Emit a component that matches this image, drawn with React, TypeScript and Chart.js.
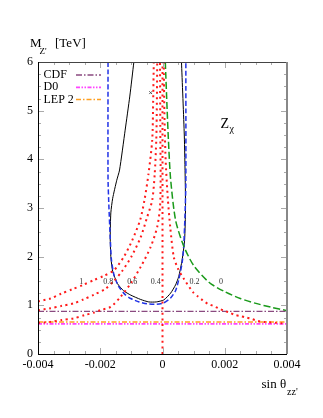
import React, { useEffect, useRef } from 'react';
import { Chart, registerables } from 'chart.js';
Chart.register(...registerables);

// ---- axis ticks ----
const xTickValues = [-0.004, -0.002, 0, 0.002, 0.004];
const xTickLabels = ['-0.004', '-0.002', '0', '0.002', '0.004'];
const yTickValues = [0, 1, 2, 3, 4, 5, 6];
const yTickLabels = ['0', '1', '2', '3', '4', '5', '6'];

// ---- red dotted contours (labelled 1, 0.8, 0.6, 0.4, 0.2) ----
const c10X = [-0.004, -0.0036, -0.00325, -0.0029, -0.00255, -0.0022, -0.0019, -0.00156, -0.00124, -0.00097, -0.00072, -0.00058, -0.00045, -0.00033, -0.0003, -0.00028];
const c10M = [1.08, 1.14, 1.24, 1.33, 1.42, 1.52, 1.6, 1.72, 2.0, 2.34, 2.75, 3.16, 3.7, 4.4, 5.2, 6.0];
const c08X = [-0.004, -0.0036, -0.00323, -0.00286, -0.00254, -0.0022, -0.00185, -0.00156, -0.0013, -0.001, -0.0007, -0.0005, -0.00033, -0.00025, -0.0002, -0.00018, -0.00017];
const c08M = [0.9, 0.94, 0.99, 1.04, 1.12, 1.22, 1.33, 1.5, 1.7, 2.0, 2.4, 2.8, 3.16, 3.7, 4.4, 5.2, 6.0];
const c06X = [-0.004, -0.0036, -0.00323, -0.00286, -0.0025, -0.0022, -0.002, -0.00166, -0.00134, -0.00102, -0.0007, -0.00038, -0.00017, -0.00008, -0.00006, -0.00007, -0.00008];
const c06M = [0.64, 0.66, 0.7, 0.73, 0.8, 0.85, 0.9, 0.97, 1.18, 1.45, 1.79, 2.2, 2.61, 3.02, 3.6, 4.5, 6.0];
const c04X = [0.0, 0.0];
const c04M = [0.0, 6.0];
const c02X = [0.00004, 0.00006, 0.0001, 0.00017, 0.00025, 0.00036, 0.0005, 0.00068, 0.00098, 0.00114, 0.0013, 0.00146, 0.00162, 0.0018, 0.00197, 0.00215, 0.00234, 0.0025, 0.00269, 0.00287, 0.00306, 0.00324, 0.00343, 0.00363, 0.00381, 0.004];
const c02M = [6.0, 5.0, 4.0, 3.2, 2.6, 2.0, 1.75, 1.55, 1.27, 1.18, 1.1, 1.03, 0.99, 0.94, 0.89, 0.85, 0.8, 0.78, 0.75, 0.72, 0.68, 0.66, 0.65, 0.64, 0.63, 0.63];

// ---- green dashed ("0") ----
const greenX = [0.00009, 0.00015, 0.00019, 0.00026, 0.00042, 0.00068, 0.001, 0.0015, 0.002, 0.0025, 0.003, 0.0035, 0.004];
const greenM = [6.0, 5.0, 4.4, 3.6, 2.75, 2.22, 1.82, 1.47, 1.28, 1.14, 1.04, 0.96, 0.89];

// ---- blue dashed ----
const blueX = [-0.00175, -0.00175, -0.00172, -0.00168, -0.00164, -0.00155, -0.0014, -0.0012, -0.00102, -0.00075, -0.00049, -0.0002, 0.00004, 0.00026, 0.00042, 0.00052, 0.00063, 0.00068, 0.00072, 0.00075, 0.00075];
const blueM = [6.0, 3.6, 3.0, 2.4, 1.93, 1.6, 1.38, 1.22, 1.14, 1.07, 1.03, 1.02, 1.05, 1.15, 1.3, 1.52, 1.87, 2.2, 2.8, 3.5, 6.0];

// ---- black solid ----
const blackX = [-0.00092, -0.00105, -0.0012, -0.00138, -0.00147, -0.0016, -0.00166, -0.00168, -0.00166, -0.0016, -0.00145, -0.00125, -0.00102, -0.0007, -0.00044, -0.0002, 0.00004, 0.00026, 0.00042, 0.00052, 0.00063, 0.00071, 0.00074, 0.00073, 0.0007, 0.00061];
const blackM = [6.0, 5.3, 4.6, 3.78, 3.57, 3.2, 2.9, 2.4, 2.0, 1.7, 1.45, 1.3, 1.21, 1.12, 1.07, 1.07, 1.11, 1.25, 1.42, 1.59, 1.93, 2.34, 3.0, 3.57, 4.5, 6.0];

// ---- experimental limits ----
const limitX = [-0.004, 0.004];
const cdfM = [0.875, 0.875];
const d0M = [0.62, 0.62];
const lepM = [0.655, 0.655];

// ---- marker ----
const markX = [-0.00038];
const markM = [5.37];

// ---- contour labels ----
const paramLabels = ['1', '0.8', '0.6', '0.4', '0.2', '0'];
const paramLabelX = [-0.00261, -0.00174, -0.00097, -0.00022, 0.00103, 0.00188];
const paramLabelM = [1.48, 1.48, 1.48, 1.48, 1.48, 1.48];

const legendNames = ['CDF', 'D0', 'LEP 2'];

const pts = (xs: number[], ys: number[]) => xs.map((x, i) => ({ x, y: ys[i] }));

const SERIF = '"Liberation Serif", "DejaVu Serif", serif';

const lineDs = (label: string, xs: number[], ys: number[], color: string, width: number, dash: number[], tension = 0.25) => ({
  label,
  data: pts(xs, ys),
  showLine: true,
  borderColor: color,
  backgroundColor: color,
  borderWidth: width,
  borderDash: dash,
  pointRadius: 0,
  pointHoverRadius: 0,
  fill: false,
  tension,
});

const decorPlugin = {
  id: 'decor',
  afterDatasetsDraw(chart: any) {
    const { ctx, chartArea: a, scales } = chart;
    const x = scales.x;
    const y = scales.y;
    ctx.save();
    // inward ticks
    ctx.strokeStyle = '#aaaaaa';
    ctx.lineWidth = 1;
    const seg = (x1: number, y1: number, x2: number, y2: number) => {
      ctx.beginPath();
      ctx.moveTo(x1, y1);
      ctx.lineTo(x2, y2);
      ctx.stroke();
    };
    for (let i = 0; i <= 16; i++) {
      const v = -0.004 + i * 0.0005;
      const px = Math.round(x.getPixelForValue(v)) + 0.5;
      const len = i % 4 === 0 ? 6 : 3;
      seg(px, a.bottom, px, a.bottom - len);
      seg(px, a.top, px, a.top + len);
    }
    for (let i = 0; i <= 24; i++) {
      const v = i * 0.25;
      const py = Math.round(y.getPixelForValue(v)) + 0.5;
      const len = i % 4 === 0 ? 6 : 3;
      seg(a.left, py, a.left + len, py);
      seg(a.right, py, a.right - len, py);
    }
    // frame
    ctx.strokeStyle = '#444444';
    ctx.lineWidth = 1;
    seg(a.left, a.top + 0.5, a.right, a.top + 0.5);
    ctx.strokeStyle = '#888888';
    ctx.lineWidth = 2;
    seg(a.right, a.top, a.right, a.bottom);
    ctx.strokeStyle = '#000000';
    ctx.lineWidth = 1;
    seg(a.left + 0.5, a.top, a.left + 0.5, a.bottom);
    seg(a.left, a.bottom + 0.5, a.right, a.bottom + 0.5);

    // contour labels
    ctx.fillStyle = '#333333';
    ctx.font = `8px ${SERIF}`;
    ctx.textAlign = 'center';
    ctx.textBaseline = 'middle';
    paramLabels.forEach((t, i) => {
      ctx.fillText(t, x.getPixelForValue(paramLabelX[i]), y.getPixelForValue(paramLabelM[i]));
    });

    // legend
    ctx.textAlign = 'left';
    ctx.font = `12px ${SERIF}`;
    legendNames.forEach((name, i) => {
      const ds = chart.data.datasets.find((d: any) => d.label === name);
      const ly = a.top + 13 + i * 12.3;
      ctx.fillStyle = '#000';
      ctx.fillText(name, a.left + 5.5, ly);
      if (ds) {
        ctx.strokeStyle = ds.borderColor;
        ctx.lineWidth = ds.borderWidth;
        ctx.setLineDash(ds.borderDash);
        seg(a.left + 38, ly, a.left + 63, ly);
        ctx.setLineDash([]);
      }
    });

    // Z_chi
    ctx.fillStyle = '#000';
    ctx.textBaseline = 'alphabetic';
    ctx.font = `14px ${SERIF}`;
    ctx.fillText('Z', 220.5, 127.5);
    ctx.font = `10px ${SERIF}`;
    ctx.fillText('χ', 229.5, 131.5);

    // y title
    ctx.font = `13px ${SERIF}`;
    ctx.fillText('M', 30, 47);
    ctx.font = `9px ${SERIF}`;
    ctx.fillText("Z'", 39.5, 54);
    ctx.font = `13px ${SERIF}`;
    ctx.fillText('[TeV]', 55, 47);

    // x title
    ctx.font = `13px ${SERIF}`;
    ctx.fillText('sin θ', 261.5, 388);
    ctx.font = `10px ${SERIF}`;
    ctx.fillText("zz'", 287, 395);
    ctx.restore();
  },
};

export default function App() {
  const ref = useRef<HTMLCanvasElement>(null);
  useEffect(() => {
    if (!ref.current) return;
    const RED = '#ff1a1a';
    const redDash = [2, 3.6];
    const chart = new Chart(ref.current, {
      type: 'scatter',
      data: {
        datasets: [
          lineDs('c1', c10X, c10M, RED, 2, redDash),
          lineDs('c0.8', c08X, c08M, RED, 2, redDash),
          lineDs('c0.6', c06X, c06M, RED, 2, redDash),
          lineDs('c0.4', c04X, c04M, RED, 2, redDash, 0),
          lineDs('c0.2', c02X, c02M, RED, 2, redDash),
          lineDs('CDF', limitX, cdfM, '#8a4a80', 1.3, [6, 2, 1.5, 2], 0),
          lineDs('LEP 2', limitX, lepM, '#ffa020', 1.5, [5, 2, 1.5, 2], 0),
          lineDs('D0', limitX, d0M, '#ff44ff', 1.8, [4, 1.5, 1.5, 1.5, 1.5, 1.5], 0),
          lineDs('green', greenX, greenM, '#1a9a1a', 1.5, [7, 3]),
          lineDs('blue', blueX, blueM, '#2233e6', 1.5, [5, 2.5], 0.2),
          lineDs('black', blackX, blackM, '#000000', 1, [], 0.2),
          {
            label: 'x',
            data: pts(markX, markM),
            pointStyle: 'crossRot',
            pointRadius: 2,
            borderColor: '#555555',
            borderWidth: 1,
            showLine: false,
          } as any,
        ],
      },
      options: {
        animation: false,
        responsive: false,
        events: [],
        layout: { padding: { left: 0, right: 36, top: 62, bottom: 0 } },
        plugins: { legend: { display: false }, tooltip: { enabled: false } },
        scales: {
          x: {
            type: 'linear',
            min: -0.004,
            max: 0.004,
            afterFit: (s: any) => { s.height = 64; },
            afterBuildTicks: (s: any) => { s.ticks = xTickValues.map((v) => ({ value: v })); },
            grid: { display: false, drawTicks: false },
            border: { display: false },
            ticks: {
              padding: 4,
              color: '#000',
              font: { family: SERIF, size: 12 },
              maxRotation: 0,
              autoSkip: false,
              callback: (_v: any, i: number) => xTickLabels[i],
            },
          },
          y: {
            type: 'linear',
            min: 0,
            max: 6,
            afterFit: (s: any) => { s.width = 38; },
            afterBuildTicks: (s: any) => { s.ticks = yTickValues.map((v) => ({ value: v })); },
            grid: { display: false, drawTicks: false },
            border: { display: false },
            ticks: {
              padding: 5,
              color: '#000',
              font: { family: SERIF, size: 12 },
              autoSkip: false,
              callback: (_v: any, i: number) => yTickLabels[i],
            },
          },
        },
      },
      plugins: [decorPlugin],
    } as any);
    return () => chart.destroy();
  }, []);
  return (
    <div style={{ position: 'absolute', left: 0, top: 0, width: 323, height: 418, background: '#fff' }}>
      <canvas ref={ref} width={323} height={418} style={{ display: 'block' }} />
    </div>
  );
}
